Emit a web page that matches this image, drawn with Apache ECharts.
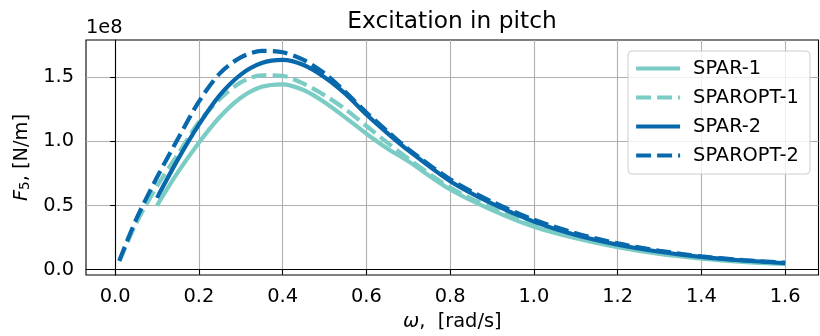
<!DOCTYPE html>
<html>
<head>
<meta charset="utf-8">
<script src="https://cdn.jsdelivr.net/npm/echarts@6/dist/echarts.min.js"></script>
<style>html,body{margin:0;padding:0;background:#fff}#c{width:820px;height:336px}</style>
</head>
<body>
<div id="c"></div>
<script>
// x values (omega, rad/s)
const xOpt  = [0.01,0.05,0.1,0.15,0.2,0.25,0.3,0.35,0.4,0.45,0.5,0.55,0.6,0.65,0.7,0.8,0.9,1.0,1.1,1.2,1.3,1.4,1.5,1.6];
const xSpar = [0.1,0.15,0.2,0.25,0.3,0.35,0.4,0.45,0.5,0.55,0.6,0.65,0.7,0.8,0.9,1.0,1.1,1.2,1.3,1.4,1.5,1.6];
// F5 values in units of 1e8 N/m
const spar1    = [0.50,0.76,0.99,1.19,1.34,1.425,1.445,1.40,1.305,1.185,1.06,0.945,0.845,0.625,0.465,0.335,0.245,0.175,0.123,0.087,0.062,0.046];
const sparopt1 = [0.065,0.36,0.65,0.90,1.15,1.33,1.46,1.515,1.51,1.45,1.36,1.25,1.12,0.99,0.865,0.64,0.48,0.345,0.255,0.182,0.13,0.093,0.067,0.049];
const spar2    = [0.56,0.86,1.13,1.36,1.52,1.61,1.635,1.595,1.50,1.37,1.21,1.065,0.93,0.69,0.515,0.375,0.27,0.195,0.14,0.10,0.072,0.052];
const sparopt2 = [0.07,0.39,0.72,1.02,1.31,1.53,1.655,1.705,1.695,1.635,1.53,1.385,1.225,1.08,0.94,0.705,0.53,0.39,0.285,0.205,0.148,0.104,0.075,0.055];
const xTicks = [0,0.2,0.4,0.6,0.8,1.0,1.2,1.4,1.6];
const yTicks = [0,0.5,1.0,1.5];
const names = ['SPAR-1','SPAROPT-1','SPAR-2','SPAROPT-2'];

const LIGHT = '#7bccc4', DARK = '#0868ac';
const FONT = 'DejaVu Sans';
const zip = (xs, ys) => xs.map((x, i) => [x, ys[i]]);

function mk(name, xs, ys, color, dashed) {
  return {
    name, type: 'line', data: zip(xs, ys), showSymbol: false, symbol: 'none',
    smooth: 0.3, animation: false,
    lineStyle: { color, width: 4.2, type: dashed ? [15, 6] : 'solid', cap: 'butt' },
    itemStyle: { color }
  };
}

const chart = echarts.init(document.getElementById('c'), null, { renderer: 'canvas' });
chart.setOption({
  animation: false,
  grid: { left: 86, right: 1.5, top: 40, bottom: 60.7, show: true, borderColor: '#000', borderWidth: 1.1, backgroundColor: 'transparent' },
  xAxis: {
    type: 'value', min: -0.0695, max: 1.6795,
    name: '{i|ω}{n|,  [rad/s]}', nameLocation: 'middle', nameGap: 37,
    nameTextStyle: { rich: { i: { fontFamily: FONT, fontStyle: 'italic', fontSize: 19.4, color: '#000' }, n: { fontFamily: FONT, fontSize: 19.4, color: '#000' } } },
    axisLine: { show: true, lineStyle: { color: '#000', width: 1.1 } },
    axisTick: { show: true, length: 5, lineStyle: { color: '#000', width: 1.1 }, customValues: xTicks },
    axisLabel: { customValues: xTicks, margin: 12, fontFamily: FONT, fontSize: 19.4, color: '#000', formatter: v => v.toFixed(1) },
    splitLine: { show: true, lineStyle: { color: '#b0b0b0', width: 1.1 } }
  },
  yAxis: {
    type: 'value', min: -0.041, max: 1.79,
    name: '{i|F}{s|5}{n|, [N/m]}', nameLocation: 'middle', nameGap: 53, nameRotate: 90,
    nameTextStyle: { rich: {
      i: { fontFamily: FONT, fontStyle: 'italic', fontSize: 19.4, color: '#000' },
      s: { fontFamily: FONT, fontSize: 13.5, color: '#000', verticalAlign: 'bottom', padding: [6, 0, 0, 0] },
      n: { fontFamily: FONT, fontSize: 19.4, color: '#000' } } },
    axisLine: { show: true, lineStyle: { color: '#000', width: 1.1 } },
    axisTick: { show: true, length: 5, lineStyle: { color: '#000', width: 1.1 }, customValues: yTicks },
    axisLabel: { customValues: yTicks, margin: 12, fontFamily: FONT, fontSize: 19.4, color: '#000', formatter: v => v.toFixed(1) },
    splitLine: { show: true, lineStyle: { color: '#b0b0b0', width: 1.1 } }
  },
  legend: {
    orient: 'vertical', left: 628, top: 51,
    data: names,
    itemWidth: 44, itemHeight: 20, itemGap: 10,
    padding: [8, 11, 9, 6],
    itemStyle: { color: 'rgba(0,0,0,0)', borderWidth: 0, opacity: 0 },
    lineStyle: { width: 4.2 },
    backgroundColor: 'rgba(255,255,255,0.8)', borderColor: '#cccccc', borderWidth: 1, borderRadius: 4,
    textStyle: { fontFamily: FONT, fontSize: 19.4, color: '#000', padding: [0, 0, 0, 8] }
  },
  graphic: [
    { type: 'text', x: 452, y: 21.9, style: { text: 'Excitation in pitch', font: '23.3px "DejaVu Sans"', fill: '#000', align: 'center', verticalAlign: 'middle' } },
    { type: 'text', x: 86, y: 28.3, style: { text: '1e8', font: '19.4px "DejaVu Sans"', fill: '#000', align: 'left', verticalAlign: 'middle' } }
  ],
  series: [
    mk('SPAR-1', xSpar, spar1, LIGHT, false),
    mk('SPAROPT-1', xOpt, sparopt1, LIGHT, true),
    mk('SPAR-2', xSpar, spar2, DARK, false),
    mk('SPAROPT-2', xOpt, sparopt2, DARK, true)
  ]
});
</script>
</body>
</html>
